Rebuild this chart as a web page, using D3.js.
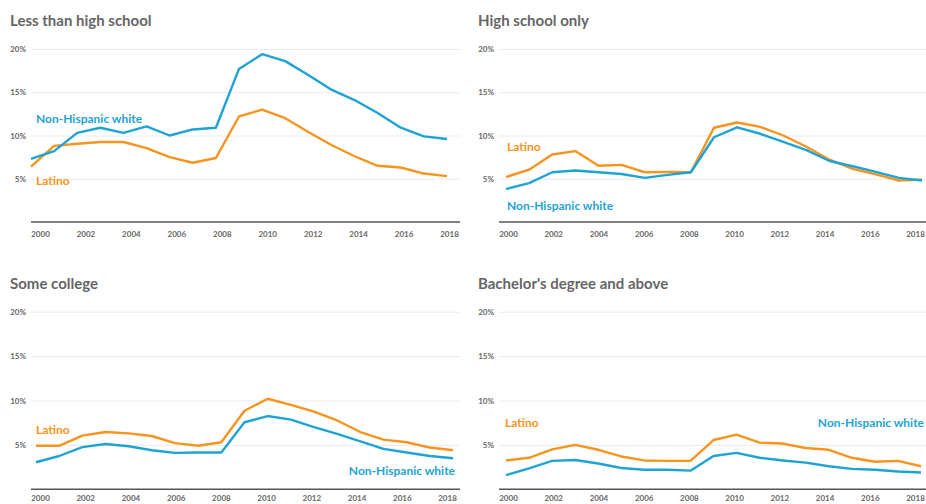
<!DOCTYPE html>
<html>
<head>
<meta charset="utf-8">
<script src="https://cdn.jsdelivr.net/npm/d3@7"></script>
<style>
  body { margin: 0; background: #fff; }
  svg { display: block; }
  .title { font-family: Lato, "Open Sans", sans-serif; font-weight: 700; fill: #666; }
  .tick text { font-family: Lato, "Open Sans", sans-serif; font-weight: 700; fill: #666; }
  .series-label { font-family: Lato, "Open Sans", sans-serif; font-weight: 700; }
</style>
</head>
<body>
<div id="chart"></div>
<script>
// years on the x axis
var years = d3.range(2000, 2019)
var yTicks = [5, 10, 15, 20]
var xTicks = [2000, 2002, 2004, 2006, 2008, 2010, 2012, 2014, 2016, 2018]

// Unemployment rate (%)
var lessHsWhite  = [7.3, 8.2, 10.3, 10.9, 10.3, 11.05, 10.0, 10.7, 10.9, 17.7, 19.4, 18.6, 17.0, 15.3, 14.1, 12.6, 10.9, 9.9, 9.6]
var lessHsLatino = [6.4, 8.8, 9.05, 9.25, 9.25, 8.55, 7.5, 6.85, 7.4, 12.2, 13.0, 12.0, 10.4, 8.9, 7.6, 6.5, 6.3, 5.6, 5.3]

var hsWhite  = [3.8, 4.5, 5.75, 5.95, 5.75, 5.55, 5.1, 5.45, 5.75, 9.8, 10.95, 10.2, 9.25, 8.3, 7.05, 6.45, 5.8, 5.1, 4.8]
var hsLatino = [5.2, 6.05, 7.8, 8.2, 6.5, 6.6, 5.75, 5.8, 5.75, 10.9, 11.5, 11.0, 10.0, 8.7, 7.2, 6.15, 5.5, 4.8, 4.9]

var collegeWhite  = [3.05, 3.75, 4.75, 5.1, 4.85, 4.4, 4.1, 4.15, 4.15, 7.55, 8.25, 7.85, 7.0, 6.25, 5.4, 4.55, 4.15, 3.75, 3.5]
var collegeLatino = [4.9, 4.9, 6.05, 6.45, 6.3, 6.0, 5.2, 4.9, 5.3, 8.85, 10.2, 9.5, 8.75, 7.75, 6.45, 5.6, 5.3, 4.7, 4.4]

var bachWhite  = [1.6, 2.35, 3.2, 3.3, 2.9, 2.4, 2.2, 2.2, 2.1, 3.75, 4.1, 3.55, 3.25, 3.0, 2.6, 2.3, 2.2, 2.0, 1.9]
var bachLatino = [3.25, 3.55, 4.5, 5.0, 4.45, 3.7, 3.25, 3.2, 3.2, 5.55, 6.15, 5.25, 5.15, 4.65, 4.45, 3.55, 3.1, 3.2, 2.6]

var titles = ["Less than high school", "High school only", "Some college", "Bachelor's degree and above"]

var blue = "#1ea3d3"
var orange = "#f7941d"

var width = 926, height = 504

var svg = d3.select('#chart')
    .append('svg')
    .attr('width', width)
    .attr('height', height)

// layout of each small multiple (pixel positions on the page)
var panels = [
    {title: titles[0], white: lessHsWhite, latino: lessHsLatino,
     titleX: 10, titleY: 26, gridL: 31, gridR: 460, top: 49, bottom: 222, tickPad: 9,
     dataL: 31, dataR: 447, tickL: 40, tickR: 449,
     labels: [{text: "Non-Hispanic white", color: blue, x: 36, y: 123, anchor: "start"},
              {text: "Latino", color: orange, x: 36, y: 185, anchor: "start"}]},
    {title: titles[1], white: hsWhite, latino: hsLatino,
     titleX: 478, titleY: 26, gridL: 499, gridR: 930, top: 49, bottom: 222, tickPad: 9,
     dataL: 506, dataR: 922, tickL: 508, tickR: 915,
     labels: [{text: "Latino", color: orange, x: 507, y: 151, anchor: "start"},
              {text: "Non-Hispanic white", color: blue, x: 507, y: 210, anchor: "start"}]},
    {title: titles[2], white: collegeWhite, latino: collegeLatino,
     titleX: 10, titleY: 289, gridL: 31, gridR: 460, top: 311.7, bottom: 489.3, tickPad: 6,
     dataL: 36, dataR: 453, tickL: 40, tickR: 447,
     labels: [{text: "Latino", color: orange, x: 36, y: 434, anchor: "start"},
              {text: "Non-Hispanic white", color: blue, x: 455, y: 475, anchor: "end"}]},
    {title: titles[3], white: bachWhite, latino: bachLatino,
     titleX: 478, titleY: 289, gridL: 499, gridR: 930, top: 311.7, bottom: 489.3, tickPad: 6,
     dataL: 506, dataR: 921, tickL: 508, tickR: 915,
     labels: [{text: "Latino", color: orange, x: 505, y: 427, anchor: "start"},
              {text: "Non-Hispanic white", color: blue, x: 924, y: 427, anchor: "end"}]}
]

panels.forEach(function(p){
    var g = svg.append('g')

    var x = d3.scaleLinear().domain([2000, 2018]).range([p.dataL, p.dataR])
    //tick labels sit a touch off the data positions in the original
    var xTick = d3.scaleLinear().domain([2000, 2018]).range([p.tickL, p.tickR])
    var y = d3.scaleLinear().domain([0, 20]).range([p.bottom, p.top])

    //Title
    g.append('text')
        .attr('class', 'title')
        .attr('x', p.titleX)
        .attr('y', p.titleY)
        .attr('font-size', 15)
        .text(p.title)

    //Gridlines + y labels
    var yAxis = d3.axisLeft(y)
        .tickValues(yTicks)
        .tickSize(-(p.gridR - p.gridL))
        .tickPadding(5)
        .tickFormat(d => d + '%')

    var yG = g.append('g')
        .attr('transform', `translate(${p.gridL},0)`)
        .call(yAxis)
    yG.select('.domain').remove()
    yG.selectAll('.tick line').attr('stroke', '#ebebeb').attr('stroke-width', 1)
    yG.selectAll('.tick text').attr('font-size', 8)

    //X axis
    var xAxis = d3.axisBottom(xTick)
        .tickValues(xTicks)
        .tickSize(0)
        .tickPadding(p.tickPad)
        .tickFormat(d3.format('d'))

    var xG = g.append('g')
        .attr('transform', `translate(0,${p.bottom})`)
        .call(xAxis)
    xG.select('.domain').remove()
    xG.selectAll('.tick text').attr('font-size', 8)

    g.append('line')
        .attr('x1', p.gridL)
        .attr('x2', p.gridR)
        .attr('y1', p.bottom)
        .attr('y2', p.bottom)
        .attr('stroke', '#555')
        .attr('stroke-width', 1.5)

    var line = d3.line()
        .x((d, i) => x(years[i]))
        .y(d => y(d))

    g.append('path')
        .datum(p.latino)
        .attr('fill', 'none')
        .attr('stroke', orange)
        .attr('stroke-width', 2.4)
        .attr('stroke-linejoin', 'round')
        .attr('d', line)

    g.append('path')
        .datum(p.white)
        .attr('fill', 'none')
        .attr('stroke', blue)
        .attr('stroke-width', 2.4)
        .attr('stroke-linejoin', 'round')
        .attr('d', line)

    //series labels
    g.selectAll('.series-label')
        .data(p.labels)
        .enter()
        .append('text')
        .attr('class', 'series-label')
        .attr('x', d => d.x)
        .attr('y', d => d.y)
        .attr('text-anchor', d => d.anchor)
        .attr('font-size', 12)
        .attr('fill', d => d.color)
        .text(d => d.text)
})
</script>
</body>
</html>
